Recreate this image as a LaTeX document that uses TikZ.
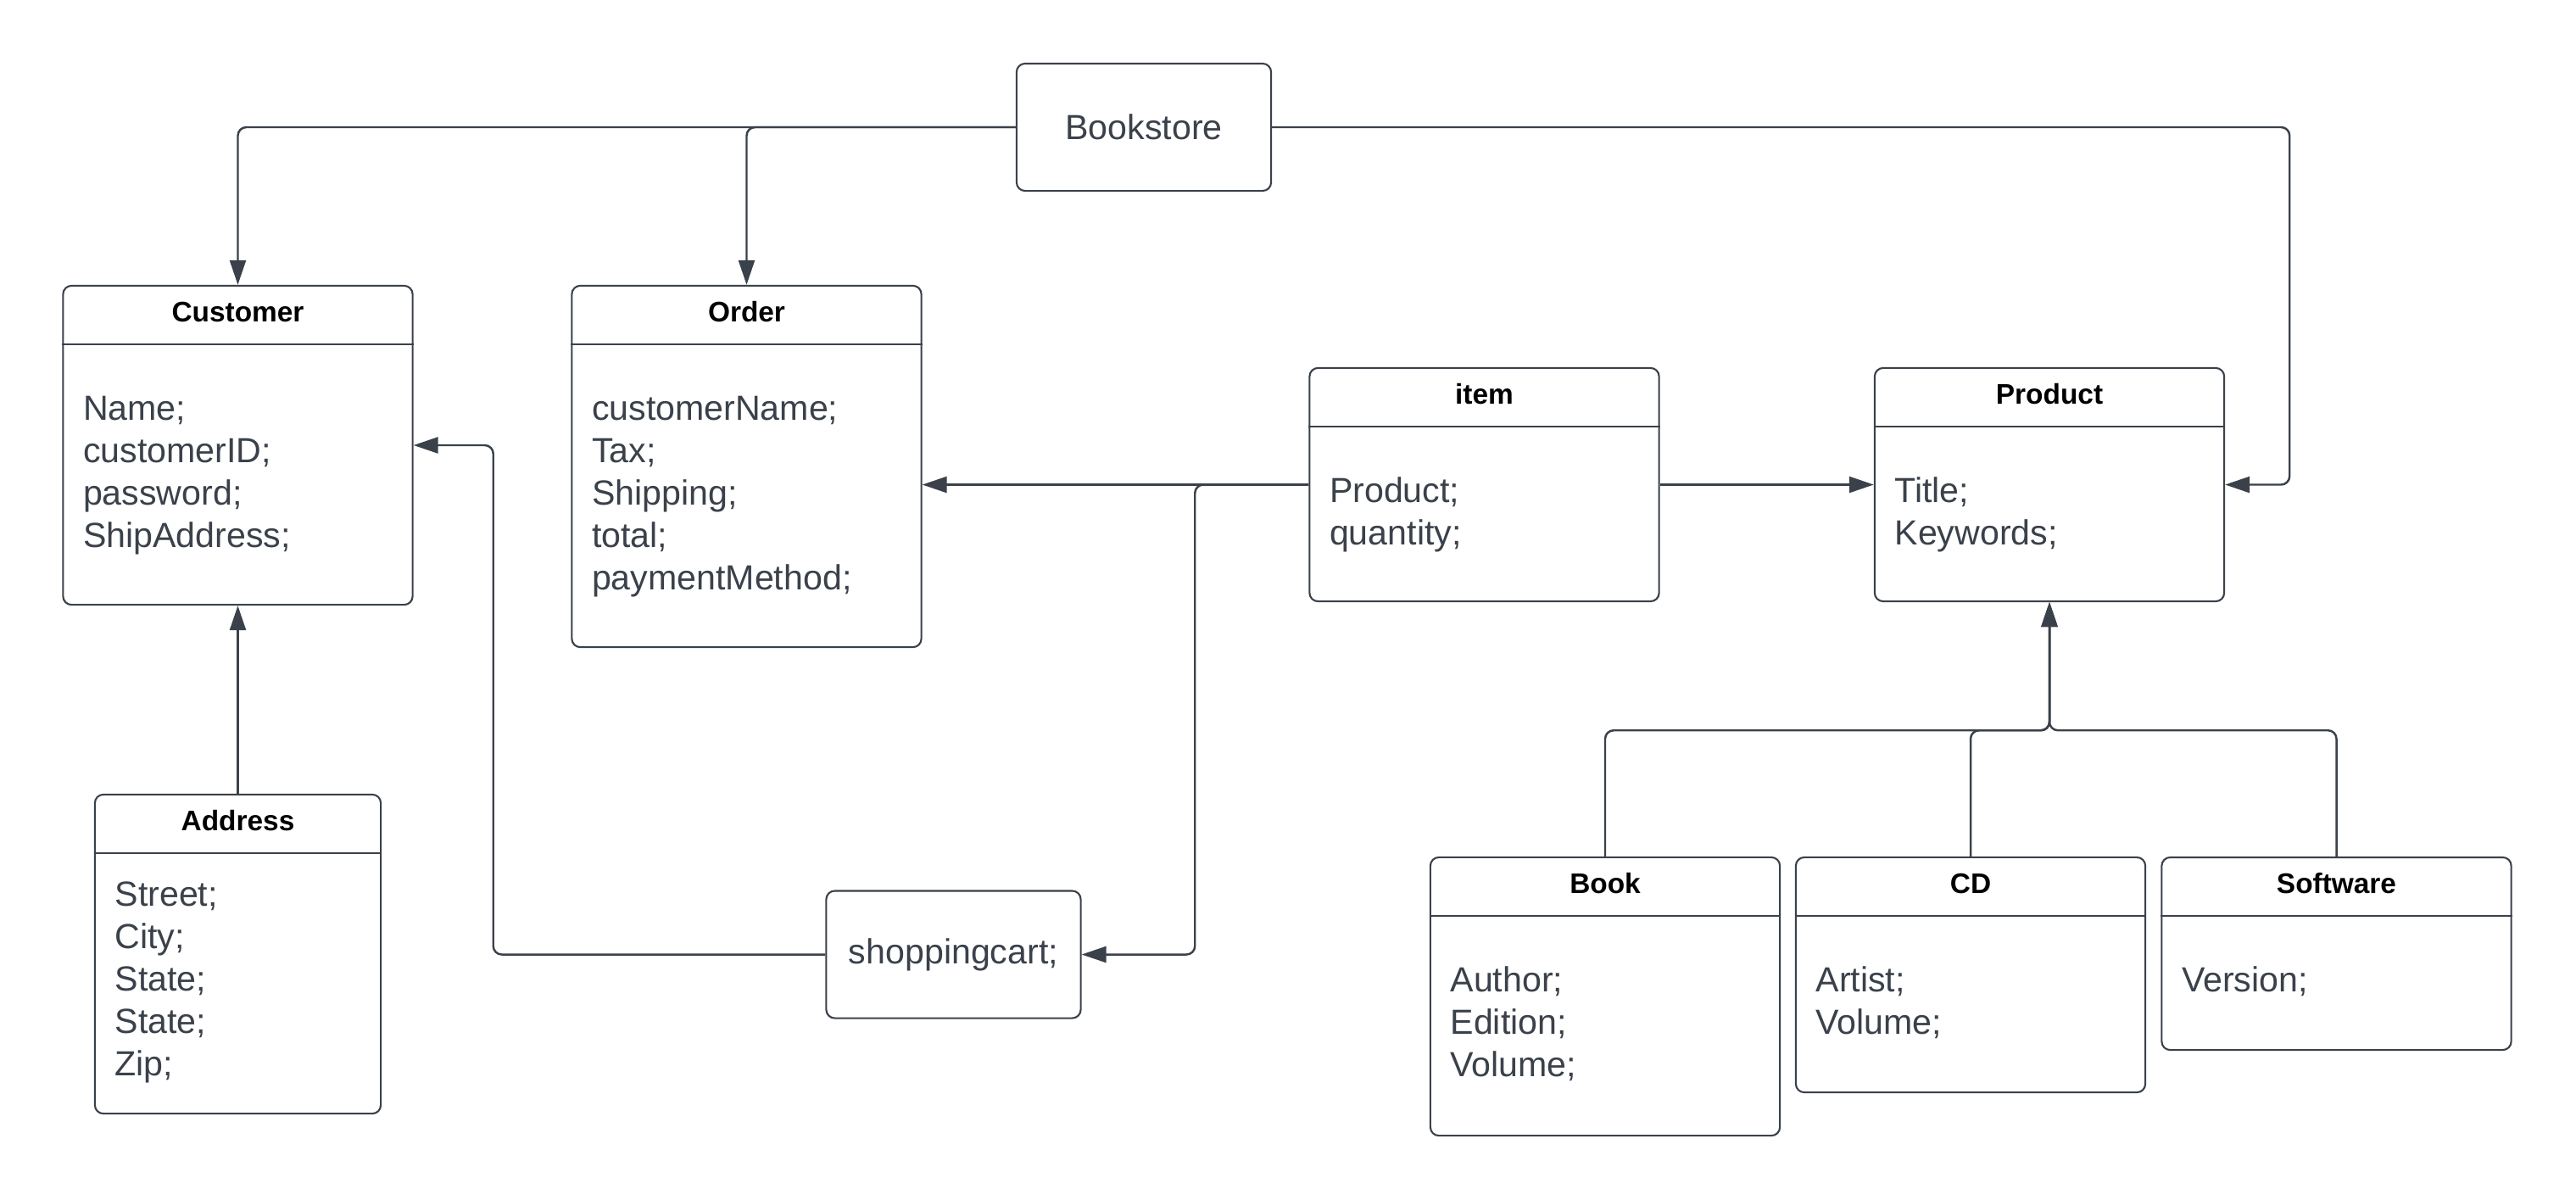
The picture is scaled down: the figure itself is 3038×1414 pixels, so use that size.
\documentclass[tikz,border=0pt]{standalone}
\usepackage{fontspec}
\setmainfont{Liberation Sans}
\usepackage{tikz}
\usetikzlibrary{positioning,arrows.meta}
\definecolor{uiline}{HTML}{3A414A}

\begin{document}
\begin{tikzpicture}[
x=0.01cm, y=-0.01cm,
classbox/.style={rectangle, draw=uiline, line width=0.6pt, rounded corners=0.1cm, minimum width=4.12cm, inner sep=0pt},
plainbox/.style={rectangle, draw=uiline, line width=0.6pt, rounded corners=0.1cm, minimum width=3cm, minimum height=1.5cm, text=uiline, font=\fontsize{11.7}{14.23}\selectfont},
titletext/.style={anchor=base, inner sep=0pt, font=\bfseries\fontsize{9.5}{11}\selectfont},
fieldtext/.style={anchor=north west, inner sep=0pt, align=left, text=uiline, font=\fontsize{11.7}{14.23}\selectfont},
sepline/.style={draw=uiline, line width=0.6pt},
link/.style={-{Triangle[length=0.29cm, width=0.19cm]}, color=uiline, line width=0.7pt, rounded corners=0.1cm}
]
    \useasboundingbox (0,0) rectangle (3038,1414);

    %Nodes
    \node[plainbox]
        (cStore)    at (1349,150)       {Bookstore};
    \node[plainbox]
        (cCart)     at (1124.5,1125.5)  {shoppingcart;};
    \node[classbox, minimum height=3.76cm]
        (cCust)     at (280.5,525)      {};
    \node[classbox, minimum height=4.26cm]
        (cOrder)    at (880.5,550)      {};
    \node[classbox, minimum height=2.75cm]
        (cItem)     at (1750.5,571.5)   {};
    \node[classbox, minimum height=2.75cm]
        (cProd)     at (2417,571.5)     {};
    \node[classbox, minimum width=3.37cm, minimum height=3.76cm]
        (cAddr)     at (280.5,1125)     {};
    \node[classbox, minimum height=3.28cm]
        (cBook)     at (1893,1175)      {};
    \node[classbox, minimum height=2.77cm]
        (cCD)       at (2324,1149.5)    {};
    \node[classbox, minimum height=2.27cm]
        (cSoft)     at (2755.5,1124.5)  {};

    %Headers
    \draw[sepline] ([yshift=-0.7cm]cCust.north west) -- ([yshift=-0.7cm]cCust.north east);
    \draw[sepline] ([yshift=-0.7cm]cOrder.north west) -- ([yshift=-0.7cm]cOrder.north east);
    \draw[sepline] ([yshift=-0.7cm]cItem.north west) -- ([yshift=-0.7cm]cItem.north east);
    \draw[sepline] ([yshift=-0.7cm]cProd.north west) -- ([yshift=-0.7cm]cProd.north east);
    \draw[sepline] ([yshift=-0.7cm]cAddr.north west) -- ([yshift=-0.7cm]cAddr.north east);
    \draw[sepline] ([yshift=-0.7cm]cBook.north west) -- ([yshift=-0.7cm]cBook.north east);
    \draw[sepline] ([yshift=-0.7cm]cCD.north west) -- ([yshift=-0.7cm]cCD.north east);
    \draw[sepline] ([yshift=-0.7cm]cSoft.north west) -- ([yshift=-0.7cm]cSoft.north east);

    \node[titletext] (tCust)  at ([yshift=-0.44cm]cCust.north)  {Customer};
    \node[titletext] (tOrder) at ([yshift=-0.44cm]cOrder.north) {Order};
    \node[titletext] (tItem)  at ([yshift=-0.44cm]cItem.north)  {item};
    \node[titletext] (tProd)  at ([yshift=-0.44cm]cProd.north)  {Product};
    \node[titletext] (tAddr)  at ([yshift=-0.44cm]cAddr.north)  {Address};
    \node[titletext] (tBook)  at ([yshift=-0.44cm]cBook.north)  {Book};
    \node[titletext] (tCD)    at ([yshift=-0.44cm]cCD.north)    {CD};
    \node[titletext] (tSoft)  at ([yshift=-0.44cm]cSoft.north)  {Software};

    %Fields
    \node[fieldtext] (fCust)  at ([xshift=0.24cm,yshift=-1.236cm]cCust.north west)
        {\strut Name;\\customerID;\\password;\\ShipAddress;};
    \node[fieldtext] (fOrder) at ([xshift=0.24cm,yshift=-1.236cm]cOrder.north west)
        {\strut customerName;\\Tax;\\Shipping;\\total;\\paymentMethod;};
    \node[fieldtext] (fItem)  at ([xshift=0.24cm,yshift=-1.236cm]cItem.north west)
        {\strut Product;\\quantity;};
    \node[fieldtext] (fProd)  at ([xshift=0.24cm,yshift=-1.236cm]cProd.north west)
        {\strut Title;\\Keywords;};
    \node[fieldtext] (fAddr)  at ([xshift=0.24cm,yshift=-0.97cm]cAddr.north west)
        {\strut Street;\\City;\\State;\\State;\\Zip;};
    \node[fieldtext] (fBook)  at ([xshift=0.24cm,yshift=-1.236cm]cBook.north west)
        {\strut Author;\\Edition;\\Volume;};
    \node[fieldtext] (fCD)    at ([xshift=0.24cm,yshift=-1.236cm]cCD.north west)
        {\strut Artist;\\Volume;};
    \node[fieldtext] (fSoft)  at ([xshift=0.24cm,yshift=-1.236cm]cSoft.north west)
        {\strut Version;};

    %Lines
    \draw[link] (cStore.west) -| (cCust.north);
    \draw[link] (cStore.west) -| (cOrder.north);
    \draw[link] (cStore.east) -| ([xshift=0.76cm]cProd.east) -- (cProd.east);
    \draw[link] (cItem.west) -- (cItem.west -| cOrder.east);
    \draw[link] (cItem.west) -- ++(-1.34cm,0cm) |- (cCart.east);
    \draw[link] (cItem.east) -- (cProd.west);
    \draw[link] (cCart.west) -| ([xshift=0.94cm]cCust.east) -- (cCust.east);
    \draw[link] (cAddr.north) -- (cCust.south);
    \draw[link] (cBook.north) |- ([yshift=-1.51cm]cProd.south) -- (cProd.south);
    \draw[link] (cCD.north) |- ([yshift=-1.51cm]cProd.south) -- (cProd.south);
    \draw[link] (cSoft.north) |- ([yshift=-1.51cm]cProd.south) -- (cProd.south);
\end{tikzpicture}
\end{document}
